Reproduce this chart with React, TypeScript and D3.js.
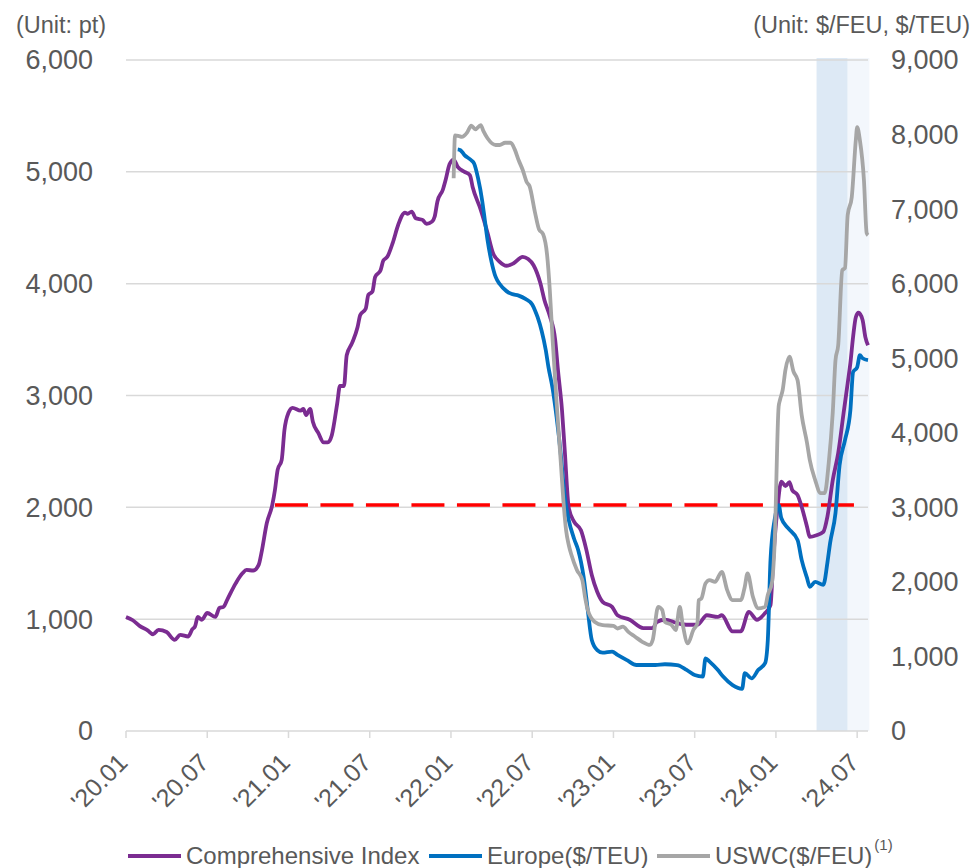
import React, { useEffect, useRef } from 'react';
import * as d3 from 'd3';

// x = months since Jan 2020, y = value
const comprehensive: [number, number][] = [
  [0, 1020], [0.5, 990], [1, 940], [1.6, 900], [2, 865], [2.4, 905], [3, 885], [3.6, 815], [4, 860],
  [4.6, 845], [4.9, 910], [5.1, 935], [5.3, 1020], [5.6, 995], [6, 1055], [6.6, 1020], [6.9, 1100],
  [7.2, 1110], [7.5, 1180], [8.1, 1320], [8.6, 1410], [8.9, 1440], [9.4, 1435], [9.8, 1485], [10, 1590],
  [10.4, 1860], [10.8, 2020], [11, 2155], [11.2, 2335], [11.5, 2425], [11.7, 2690], [12, 2845], [12.3, 2890],
  [12.9, 2865], [13.1, 2880], [13.3, 2825], [13.6, 2880], [13.8, 2765], [14.2, 2665], [14.6, 2580],
  [14.9, 2580], [15.2, 2645], [15.6, 2930], [15.8, 3085], [16.1, 3085], [16.3, 3360], [16.7, 3470],
  [17.1, 3610], [17.3, 3720], [17.7, 3775], [17.9, 3900], [18.2, 3930], [18.4, 4060], [18.8, 4120],
  [19, 4205], [19.3, 4240], [19.7, 4365], [20.1, 4525], [20.6, 4635], [20.8, 4625], [21.1, 4645],
  [21.4, 4585], [21.9, 4570], [22.2, 4535], [22.6, 4555], [22.8, 4600], [23, 4735], [23.4, 4840],
  [23.6, 4925], [23.9, 5070], [24.2, 5110], [24.5, 5045], [25, 5000], [25.4, 4970], [25.6, 4865],
  [26.2, 4660], [26.7, 4455], [27.1, 4275], [27.6, 4195], [28.1, 4160], [28.6, 4180], [29.3, 4240],
  [29.7, 4220], [30.1, 4165], [30.6, 4005], [30.9, 3855], [31.3, 3710], [31.7, 3495], [31.9, 3230],
  [32.2, 2870], [32.4, 2515], [32.7, 1995], [33.1, 1870], [33.6, 1795], [34, 1620], [34.4, 1395],
  [34.8, 1245], [35.2, 1155], [35.9, 1110], [36.3, 1035], [37.2, 995], [38.2, 920], [38.9, 920],
  [39.2, 975], [39.8, 995], [40.7, 965], [41.4, 950], [42.2, 950], [42.9, 1035], [43.7, 1020], [44, 1035],
  [44.8, 890], [45.4, 890], [46, 1065], [46.6, 995], [47.2, 1055], [47.6, 1125], [47.8, 1530], [48.1, 1975],
  [48.4, 2230], [48.7, 2190], [49, 2225], [49.2, 2155], [49.6, 2110], [49.9, 2005], [50.3, 1825],
  [50.5, 1735], [51, 1750], [51.5, 1780], [51.8, 1915], [52.2, 2245], [52.6, 2485], [53, 2845],
  [53.3, 3110], [53.5, 3290], [53.7, 3525], [53.9, 3700], [54.1, 3740], [54.4, 3675], [54.6, 3525],
  [54.8, 3450],
];

const europe: [number, number][] = [
  [24.5, 7800], [24.7, 7790], [25, 7725], [25.5, 7655], [25.7, 7615], [26, 7415], [26.3, 7120],
  [26.5, 6855], [26.7, 6585], [27, 6290], [27.3, 6090], [27.6, 5995], [28.1, 5900], [28.5, 5860],
  [29, 5840], [29.5, 5795], [30, 5720], [30.2, 5645], [30.4, 5550], [30.7, 5365], [31, 5110], [31.2, 4880],
  [31.5, 4600], [31.8, 4210], [32.1, 3730], [32.4, 3150], [32.7, 2830], [33.1, 2575], [33.4, 2425],
  [33.8, 2065], [34.1, 1625], [34.4, 1220], [34.8, 1085], [35.2, 1050], [35.9, 1065], [36.3, 1020],
  [37, 950], [37.7, 885], [38.5, 885], [39.1, 885], [39.8, 895], [40.7, 885], [41.4, 820], [42, 750],
  [42.6, 730], [42.8, 975], [43.1, 930], [43.7, 820], [44.1, 730], [44.8, 615], [45.5, 565], [45.7, 775],
  [46.2, 705], [46.7, 820], [47.2, 910], [47.4, 1220], [47.6, 2295], [47.9, 2830], [48.2, 3030],
  [48.4, 2855], [48.9, 2720], [49.6, 2560], [49.9, 2295], [50.3, 2050], [50.5, 1935], [50.9, 2000],
  [51.5, 1960], [51.8, 2255], [52, 2520], [52.4, 2925], [52.7, 3565], [53.1, 3900], [53.5, 4305],
  [53.7, 4815], [54, 4880], [54.2, 5040], [54.4, 5000], [54.8, 4975],
];

const uswc: [number, number][] = [
  [24.2, 7415], [24.3, 7990], [24.6, 7980], [24.8, 7970], [25.2, 8030], [25.5, 8120], [25.8, 8070],
  [26.2, 8125], [26.4, 8045], [26.7, 7950], [27.3, 7860], [27.6, 7860], [28, 7890], [28.4, 7890],
  [28.7, 7805], [29, 7655], [29.3, 7525], [29.6, 7360], [29.8, 7310], [30.2, 6960], [30.5, 6730],
  [30.8, 6665], [31.1, 6385], [31.3, 5915], [31.5, 5270], [31.8, 4410], [32.1, 3635], [32.3, 3100],
  [32.5, 2695], [32.7, 2495], [32.9, 2360], [33.3, 2160], [33.7, 2025], [33.9, 1800], [34.1, 1625],
  [34.6, 1465], [35.2, 1420], [36, 1410], [36.3, 1375], [36.7, 1400], [37.1, 1330], [37.6, 1265],
  [38.1, 1200], [38.7, 1155], [38.9, 1220], [39.3, 1665], [39.6, 1625], [39.8, 1465], [40.3, 1420],
  [40.6, 1355], [40.9, 1665], [41.1, 1445], [41.5, 1175], [41.9, 1355], [42.2, 1445], [42.3, 1755],
  [42.5, 1780], [42.8, 1980], [43.1, 2025], [43.5, 2000], [44, 2135], [44.4, 1890], [44.8, 1755],
  [45.4, 1755], [45.7, 1935], [45.9, 2115], [46.3, 1800], [46.7, 1645], [47.2, 1665], [47.4, 1825],
  [47.7, 1980], [47.9, 2495], [48.2, 4350], [48.3, 4440], [48.5, 4575], [48.7, 4840], [49, 5020],
  [49.3, 4820], [49.6, 4705], [49.9, 4240], [50.3, 3860], [50.5, 3635], [50.9, 3365], [51.3, 3190],
  [51.6, 3190], [51.9, 3595], [52.2, 4280], [52.4, 4975], [52.6, 5175], [52.9, 6180], [53.1, 6210],
  [53.3, 6920], [53.6, 7160], [53.9, 7925], [54, 8100], [54.2, 7925], [54.5, 7390], [54.7, 6680],
  [54.8, 6650],
];

const xTickMonths = [0, 6, 12, 18, 24, 30, 36, 42, 48, 54];
const xTickLabels = ["'20.01", "'20.07", "'21.01", "'21.07", "'22.01", "'22.07", "'23.01", "'23.07", "'24.01", "'24.07"];
const leftTicks = [0, 1000, 2000, 3000, 4000, 5000, 6000];
const rightTicks = [0, 1000, 2000, 3000, 4000, 5000, 6000, 7000, 8000, 9000];
const referenceLevel = 2020;
const referenceSpan = [11, 54];
const peakBand = [51, 53.3];
const recentBand = [53.3, 54.9];

const Chart = () => {
  const ref = useRef<SVGSVGElement>(null);

  useEffect(() => {
    const w = 973;
    const h = 868;
    const left = 126, right = 868, top = 60, bottom = 731;
    const font = "'Liberation Sans', Arial, sans-serif";
    const textColor = '#595959';
    const lw = 3.8;

    const svg = d3.select(ref.current);
    svg.selectAll('*').remove();
    svg.attr('width', w).attr('height', h);

    const x = d3.scaleLinear().domain([0, 54.8]).range([left, right]);
    const yL = d3.scaleLinear().domain([0, 6000]).range([bottom, top]);
    const yR = d3.scaleLinear().domain([0, 9000]).range([bottom, top]);

    // shaded periods
    svg.append('rect')
      .attr('x', x(peakBand[0])).attr('y', top - 2)
      .attr('width', x(peakBand[1]) - x(peakBand[0])).attr('height', bottom - top + 2)
      .attr('fill', '#dde9f5');
    svg.append('rect')
      .attr('x', x(recentBand[0])).attr('y', top - 2)
      .attr('width', x(recentBand[1]) - x(recentBand[0])).attr('height', bottom - top + 2)
      .attr('fill', '#f3f7fc');

    // gridlines
    svg.selectAll('line.grid')
      .data(leftTicks.filter(d => d > 0))
      .enter()
      .append('line')
      .attr('class', 'grid')
      .attr('x1', left).attr('x2', right)
      .attr('y1', d => yL(d)).attr('y2', d => yL(d))
      .attr('stroke', '#d9d9d9').attr('stroke-width', 1.5);

    // bottom axis
    svg.append('line')
      .attr('x1', left).attr('x2', right)
      .attr('y1', bottom).attr('y2', bottom)
      .attr('stroke', '#d9d9d9').attr('stroke-width', 1.5);
    svg.selectAll('line.xtick')
      .data(xTickMonths)
      .enter()
      .append('line')
      .attr('x1', d => x(d)).attr('x2', d => x(d))
      .attr('y1', bottom).attr('y2', bottom + 7)
      .attr('stroke', '#d9d9d9').attr('stroke-width', 1.5);
    svg.selectAll('text.xlabel')
      .data(xTickMonths)
      .enter()
      .append('text')
      .attr('transform', d => `translate(${x(d) - 3},${bottom + 27}) rotate(-45)`)
      .attr('text-anchor', 'end')
      .attr('dy', '0.35em')
      .attr('font-family', font).attr('font-size', 25).attr('fill', textColor)
      .text((d, i) => xTickLabels[i]);

    // y labels
    svg.selectAll('text.ylabel')
      .data(leftTicks)
      .enter()
      .append('text')
      .attr('x', 93).attr('y', d => yL(d))
      .attr('dy', '0.35em')
      .attr('text-anchor', 'end')
      .attr('font-family', font).attr('font-size', 27).attr('fill', textColor)
      .text(d => d3.format(',')(d));
    svg.selectAll('text.rlabel')
      .data(rightTicks)
      .enter()
      .append('text')
      .attr('x', 891).attr('y', d => yR(d))
      .attr('dy', '0.35em')
      .attr('font-family', font).attr('font-size', 27).attr('fill', textColor)
      .text(d => d3.format(',')(d));

    svg.append('text')
      .attr('x', 16).attr('y', 33)
      .attr('font-family', font).attr('font-size', 23.5).attr('fill', textColor)
      .text('(Unit: pt)');
    svg.append('text')
      .attr('x', 970).attr('y', 33)
      .attr('text-anchor', 'end')
      .attr('font-family', font).attr('font-size', 23.5).attr('fill', textColor)
      .text('(Unit: $/FEU, $/TEU)');

    // reference level
    svg.append('line')
      .attr('x1', x(referenceSpan[0])).attr('x2', x(referenceSpan[1]))
      .attr('y1', yL(referenceLevel)).attr('y2', yL(referenceLevel))
      .attr('stroke', '#ff0000').attr('stroke-width', 3.5)
      .attr('stroke-dasharray', '33 12.5');

    const lineL = d3.line<[number, number]>()
      .x(d => x(d[0])).y(d => yL(d[1]))
      .curve(d3.curveMonotoneX);
    const lineR = d3.line<[number, number]>()
      .x(d => x(d[0])).y(d => yR(d[1]))
      .curve(d3.curveMonotoneX);

    svg.append('path').datum(comprehensive)
      .attr('d', lineL).attr('fill', 'none')
      .attr('stroke', '#7b2c91').attr('stroke-width', lw).attr('stroke-linejoin', 'round');
    svg.append('path').datum(europe)
      .attr('d', lineR).attr('fill', 'none')
      .attr('stroke', '#0070c0').attr('stroke-width', lw).attr('stroke-linejoin', 'round');
    svg.append('path').datum(uswc)
      .attr('d', lineR).attr('fill', 'none')
      .attr('stroke', '#a6a6a6').attr('stroke-width', lw).attr('stroke-linejoin', 'round');

    // legend
    const legend = [
      { name: 'Comprehensive Index', color: '#7b2c91', x: 128 },
      { name: 'Europe($/TEU)', color: '#0070c0', x: 429 },
      { name: 'USWC($/FEU)', color: '#a6a6a6', x: 657 },
    ];
    const ly = 856;
    legend.forEach((item, i) => {
      svg.append('line')
        .attr('x1', item.x).attr('x2', item.x + 53)
        .attr('y1', ly).attr('y2', ly)
        .attr('stroke', item.color).attr('stroke-width', lw);
      const t = svg.append('text')
        .attr('x', item.x + 58).attr('y', ly + 8)
        .attr('font-family', font).attr('font-size', 24).attr('fill', textColor)
        .text(item.name);
      if (i === 2) {
        t.append('tspan').attr('dy', -14).attr('dx', 2).attr('font-size', 15).text('(1)');
      }
    });
  }, []);

  return <svg ref={ref} style={{ position: 'absolute', left: 0, top: 0 }}></svg>;
};

export default function App() {
  return <Chart />;
}
